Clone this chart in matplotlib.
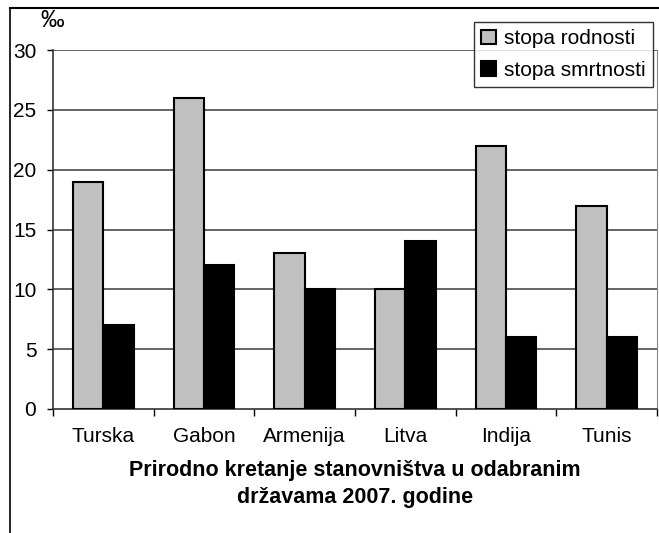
import matplotlib
matplotlib.use("Agg")
import matplotlib.pyplot as plt
import numpy as np
from matplotlib.lines import Line2D

categories = ["Turska", "Gabon", "Armenija", "Litva", "Indija", "Tunis"]
birth_rate = [19, 26, 13, 10, 22, 17]
death_rate = [7, 12, 10, 14, 6, 6]
series_names = ["stopa rodnosti", "stopa smrtnosti"]
y_ticks = [0, 5, 10, 15, 20, 25, 30]
title = "Prirodno kretanje stanovništva u odabranim\ndržavama 2007. godine"

plt.rcParams['font.family'] = ['Liberation Sans', 'DejaVu Sans']
FS = 15

fig = plt.figure(figsize=(6.59, 5.33), dpi=100)
ax = fig.add_axes([53/659, 1-409/533, (657-53)/659, (409-50)/533])

x = np.arange(len(categories))
w = 0.3
ax.bar(x - w/2, birth_rate, w, color='#c0c0c0', edgecolor='black', linewidth=1.5,
       label=series_names[0], zorder=3)
ax.bar(x + w/2, death_rate, w, color='black', edgecolor='black', linewidth=1.5,
       label=series_names[1], zorder=3)

ax.set_xlim(-0.5, len(categories) - 0.5)
ax.set_ylim(0, 30)
ax.set_yticks(y_ticks)
ax.set_yticklabels([str(v) for v in y_ticks], fontsize=FS)
ax.set_xticks(x)
ax.set_xticklabels(categories, fontsize=FS)
ax.set_xticks(np.arange(len(categories) + 1) - 0.5, minor=True)
ax.tick_params(axis='x', which='major', length=0, pad=13)
ax.tick_params(axis='x', which='minor', length=5, width=1, direction='out')
ax.tick_params(axis='y', length=4, width=1, pad=8, direction='out')

for v in y_ticks[1:]:
    ax.axhline(v, color='#4a4a4a', linewidth=1.2, zorder=1)

ax.spines['top'].set_visible(False)
ax.spines['right'].set_color('#888888')
ax.spines['left'].set_color('#333333')
ax.spines['bottom'].set_color('#333333')
ax.spines['left'].set_linewidth(1.2)
ax.spines['bottom'].set_linewidth(1.2)

ax.set_xlabel(title, fontsize=15.5, fontweight='bold', labelpad=10, linespacing=1.4)

fig.text(52/659, 1-21/533, "‰", fontsize=17, ha='center', va='center')

leg = fig.legend(loc='upper left', bbox_to_anchor=(474/659, 1-22/533), fontsize=FS,
                 frameon=True, fancybox=False, shadow=False, handlelength=0.7,
                 handleheight=0.7, handletextpad=0.4, borderpad=0.35, labelspacing=0.6,
                 borderaxespad=0)
leg.get_frame().set_edgecolor('black')
leg.get_frame().set_linewidth(1.0)

# outer frame lines
fig.add_artist(Line2D([10/659, 1], [1-8/533, 1-8/533], transform=fig.transFigure,
                      color='black', linewidth=1.5))
fig.add_artist(Line2D([10/659, 10/659], [0, 1-8/533], transform=fig.transFigure,
                      color='black', linewidth=1.2))

fig.savefig("out.png", dpi=100)
